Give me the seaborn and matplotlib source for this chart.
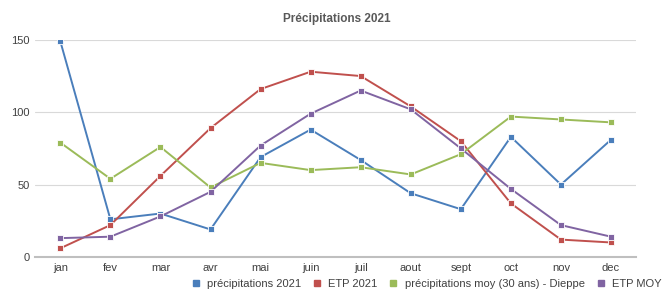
import numpy as np
import pandas as pd
import seaborn as sns
import matplotlib.pyplot as plt
from matplotlib.lines import Line2D

months = ["jan", "fev", "mar", "avr", "mai", "juin", "juil", "aout", "sept", "oct", "nov", "dec"]
precip_2021 = [149, 26, 30, 19, 69, 88, 67, 44, 33, 83, 50, 81]
etp_2021 = [6, 22, 56, 89, 116, 128, 125, 104, 80, 37, 12, 10]
precip_moy = [79, 54, 76, 48, 65, 60, 62, 57, 71, 97, 95, 93]
etp_moy = [13, 14, 28, 45, 77, 99, 115, 102, 75, 47, 22, 14]

series = {
    "précipitations 2021": precip_2021,
    "ETP 2021": etp_2021,
    "précipitations moy (30 ans) - Dieppe": precip_moy,
    "ETP MOY": etp_moy,
}
colors = ["#4a7ebb", "#c0504d", "#9bbb59", "#8064a2"]

rows = []
for name, vals in series.items():
    for i, v in enumerate(vals):
        rows.append({"mois": i, "valeur": v, "serie": name})
df = pd.DataFrame(rows)

sns.set_style("white")
plt.rcParams["font.family"] = ["Liberation Sans", "DejaVu Sans"]

fig = plt.figure(figsize=(6.66, 2.91), dpi=100)
ax = fig.add_axes([0.053, 0.117, 0.902, 0.746])

sns.lineplot(data=df, x="mois", y="valeur", hue="serie", palette=colors,
             marker="s", markersize=4.5, markeredgewidth=0.6, markeredgecolor="white",
             dashes=False, linewidth=1.4, ax=ax, legend=False)

ax.set_xlim(-0.5, 11.5)
ax.set_ylim(0, 150)
ax.set_yticks([0, 50, 100, 150])
ax.set_xticks(range(12))
ax.set_xticklabels(months)
ax.set_xlabel("")
ax.set_ylabel("")
ax.tick_params(axis="both", labelsize=8, colors="#404040", length=0, pad=4)
ax.yaxis.grid(True, color="#d9d9d9", linewidth=0.8)
ax.set_axisbelow(True)
for s in ["top", "right", "left"]:
    ax.spines[s].set_visible(False)
ax.spines["bottom"].set_color("#bfbfbf")
ax.spines["bottom"].set_linewidth(1.5)

fig.text(0.505, 0.935, "Précipitations 2021", ha="center", va="center",
         fontsize=8.5, color="#595959", fontweight="bold")

handles = [Line2D([], [], linestyle="none", marker="s", markersize=4.5, color=c)
           for c in colors]
fig.legend(handles, list(series.keys()), loc="center left",
           bbox_to_anchor=(0.272, 0.025), ncol=4, frameon=False, fontsize=8,
           handlelength=0.8, handletextpad=0.6, columnspacing=1.05,
           labelcolor="#404040")

fig.savefig("out.png", dpi=100)
